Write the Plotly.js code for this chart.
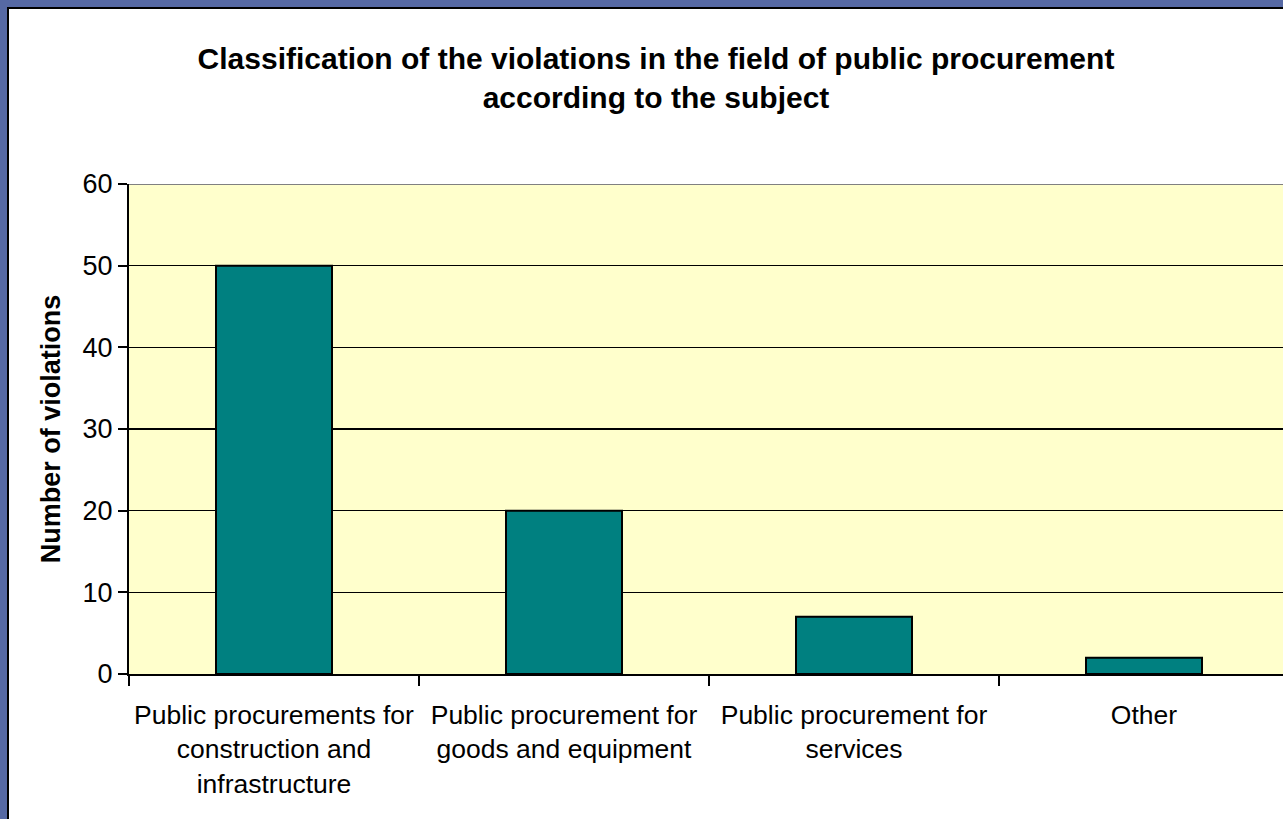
<!DOCTYPE html>
<html>
<head>
<meta charset="utf-8">
<script src="https://cdn.plot.ly/plotly-3.0.1.min.js"></script>
<style>
  html, body { margin:0; padding:0; width:1283px; height:819px; overflow:hidden; background:#5669a4; }
  #wrap { position:absolute; left:7px; top:7px; width:1400px; height:900px; background:#ffffff;
          border-left:2px solid #000; border-top:2px solid #000; overflow:hidden; }
  #chart { position:absolute; left:0; top:0; width:1300px; height:810px; }
</style>
</head>
<body>
<div id="wrap"><div id="chart"></div></div>
<script>
const categories = [
  "Public procurements for<br>construction and<br>infrastructure",
  "Public procurement for<br>goods and equipment",
  "Public procurement for<br>services",
  "Other"
];
const violations = [50, 20, 7, 2];
const chartTitle = "Classification of the violations in the field of public procurement<br>according to the subject";
const yTitle = "Number of violations";

const FONT = "Liberation Sans, Arial, sans-serif";

const trace = {
  type: "bar",
  x: categories,
  y: violations,
  width: 0.4,
  marker: { color: "#008080", line: { color: "#000000", width: 2 } },
  hoverinfo: "x+y"
};

const layout = {
  width: 1300,
  height: 810,
  margin: { l: 120, r: 20, t: 175, b: 145 },
  paper_bgcolor: "#ffffff",
  plot_bgcolor: "#ffffcc",
  showlegend: false,
  font: { family: FONT, color: "#000000" },
  title: {
    text: chartTitle,
    font: { family: FONT, size: 30, weight: "bold", color: "#000000" },
    xref: "container", x: 647 / 1300, xanchor: "center",
    yref: "container", y: 1 - 60 / 810, yanchor: "middle"
  },
  xaxis: {
    type: "category",
    range: [-0.5, 3.5],
    showline: true, linecolor: "#000000", linewidth: 2,
    ticks: "outside", tickson: "boundaries", ticklen: 10, tickwidth: 2, tickcolor: "#000000",
    tickfont: { family: FONT, size: 26.5, color: "#000000" },
    tickangle: 0,
    ticklabelstandoff: 16,
    showgrid: false, zeroline: false,
    automargin: false
  },
  yaxis: {
    range: [0, 60],
    tick0: 0, dtick: 10,
    showline: true, linecolor: "#000000", linewidth: 2,
    ticks: "outside", ticklen: 9, tickwidth: 2, tickcolor: "#000000",
    tickfont: { family: FONT, size: 27, color: "#000000" },
    showgrid: true, gridcolor: "#000000", gridwidth: 1.5,
    zeroline: false,
    automargin: false,
    title: { text: yTitle, font: { family: FONT, size: 27, weight: "bold", color: "#000000" }, standoff: 14 }
  },
  shapes: [
    { type: "line", xref: "paper", yref: "y", x0: 0, x1: 1, y0: 60, y1: 60,
      line: { color: "#808080", width: 2 }, layer: "above" }
  ]
};

Plotly.newPlot("chart", [trace], layout, { displayModeBar: false, staticPlot: true });
</script>
</body>
</html>
